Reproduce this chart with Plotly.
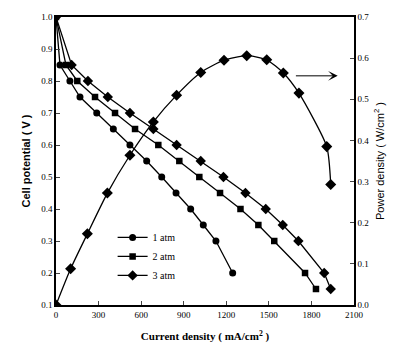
import plotly.graph_objects as go

# Current density (mA/cm^2) and cell potential (V) per pressure
i_1atm = [0, 28, 98, 169, 287, 404, 521, 639, 745, 846, 949, 1038, 1127, 1245]
v_1atm = [1.0, 0.85, 0.80, 0.75, 0.70, 0.65, 0.60, 0.55, 0.50, 0.45, 0.40, 0.35, 0.30, 0.20]

i_2atm = [0, 70, 150, 275, 416, 557, 721, 869, 1010, 1156, 1300, 1426, 1538, 1755, 1832]
v_2atm = [1.0, 0.85, 0.80, 0.75, 0.70, 0.65, 0.60, 0.55, 0.50, 0.45, 0.40, 0.35, 0.30, 0.20, 0.15]

i_3atm = [0, 110, 225, 365, 521, 686, 850, 1020, 1180, 1335, 1478, 1598, 1708, 1890, 1936]
v_3atm = [1.0, 0.85, 0.80, 0.75, 0.70, 0.65, 0.60, 0.55, 0.50, 0.45, 0.40, 0.35, 0.30, 0.20, 0.15]

# Power density (W/cm^2), 3 atm
i_power = [0, 103, 221, 362, 521, 686, 850, 1020, 1184, 1344, 1485, 1602, 1712, 1908, 1936]
p_power = [0.0, 0.088, 0.173, 0.272, 0.364, 0.445, 0.51, 0.565, 0.595, 0.606, 0.596, 0.564, 0.515, 0.385, 0.293]

x_ticks = [0, 300, 600, 900, 1200, 1500, 1800, 2100]

FONT = "Liberation Serif"
black = "#000000"

fig = go.Figure()
line = dict(color=black, width=1.3)
fig.add_trace(go.Scatter(x=i_1atm, y=v_1atm, mode="lines+markers", name="1 atm",
                         line=line, marker=dict(symbol="circle", size=7, color=black)))
fig.add_trace(go.Scatter(x=i_2atm, y=v_2atm, mode="lines+markers", name="2 atm",
                         line=line, marker=dict(symbol="square", size=6.5, color=black)))
fig.add_trace(go.Scatter(x=i_3atm, y=v_3atm, mode="lines+markers", name="3 atm",
                         line=line, marker=dict(symbol="diamond", size=8, color=black)))
fig.add_trace(go.Scatter(x=i_power, y=p_power, mode="lines+markers", showlegend=False,
                         line=dict(color=black, width=1.3, shape="spline", smoothing=0.6),
                         marker=dict(symbol="diamond", size=8.5, color=black), yaxis="y2"))

fig.add_annotation(x=1985, y=0.557, ax=1680, ay=0.557, xref="x", yref="y2",
                   axref="x", ayref="y2", text="", showarrow=True,
                   arrowhead=3, arrowsize=1.6, arrowwidth=1, arrowcolor=black)

fig.update_layout(
    width=399, height=360,
    margin=dict(l=56, r=45, t=13, b=55),
    paper_bgcolor="white", plot_bgcolor="white",
    font=dict(family=FONT, size=9, color=black),
    showlegend=True,
    legend=dict(x=0.19, y=0.285, xanchor="left", yanchor="top",
                bgcolor="rgba(0,0,0,0)", font=dict(family=FONT, size=10, color=black),
                tracegroupgap=0, itemwidth=30),
    xaxis=dict(range=[0, 2100], tickvals=x_ticks, ticks="inside", ticklen=4,
               showline=True, linecolor=black, linewidth=1.5, mirror=True,
               showgrid=False, zeroline=False,
               title=dict(text="<b>Current density ( mA/cm<sup>2</sup> )</b>",
                          font=dict(family=FONT, size=11), standoff=14)),
    yaxis=dict(range=[0.1, 1.0], dtick=0.1, tick0=0.1, tickformat=".1f",
               ticks="inside", ticklen=4, showline=True, linecolor=black, linewidth=1.5,
               showgrid=False, zeroline=False,
               title=dict(text="<b>Cell potential ( V )</b>",
                          font=dict(family="Liberation Sans", size=11), standoff=8)),
    yaxis2=dict(range=[0.0, 0.7], dtick=0.1, tick0=0, tickformat=".1f", overlaying="y",
                side="right", ticks="inside", ticklen=4, showline=True, linecolor=black,
                linewidth=1.5, showgrid=False, zeroline=False,
                title=dict(text="Power density ( W/cm<sup>2</sup> )",
                           font=dict(family="Liberation Sans", size=11), standoff=8)),
)

fig.write_html("out.html")
